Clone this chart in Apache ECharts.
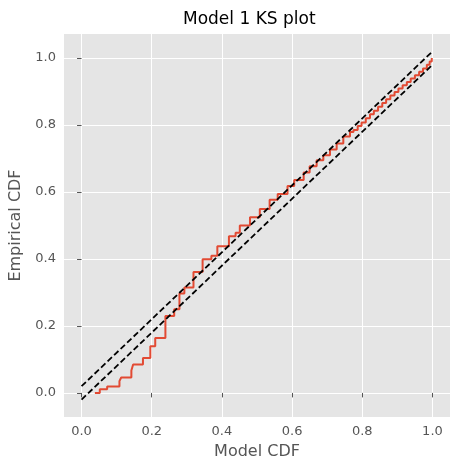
<!DOCTYPE html>
<html>
<head>
<meta charset="utf-8">
<script src="https://cdn.jsdelivr.net/npm/echarts@6/dist/echarts.min.js"></script>
<style>
  html, body { margin: 0; padding: 0; background: #ffffff; }
  #myChart { width: 459px; height: 472px; }
</style>
</head>
<body>
<div id="myChart"></div>
<script>
// empirical CDF steps (x = model CDF, y = empirical CDF)
var modelCdf = [0.038, 0.052, 0.073, 0.108, 0.113, 0.142, 0.147, 0.175, 0.196, 0.21,
  0.239, 0.264, 0.279, 0.293, 0.319, 0.345, 0.37, 0.387, 0.42, 0.439,
  0.451, 0.48, 0.508, 0.536, 0.559, 0.587, 0.606, 0.633, 0.65, 0.67,
  0.689, 0.708, 0.727, 0.746, 0.765, 0.775, 0.787, 0.798, 0.81, 0.822,
  0.833, 0.845, 0.857, 0.868, 0.88, 0.892, 0.903, 0.915, 0.927, 0.938,
  0.95, 0.962, 0.973, 0.984, 0.992, 0.998];
var empiricalCdf = [0.0, 0.011, 0.019, 0.035, 0.046, 0.067, 0.085, 0.104, 0.139, 0.164,
  0.23, 0.25, 0.297, 0.315, 0.361, 0.399, 0.41, 0.438, 0.468, 0.478,
  0.5, 0.525, 0.549, 0.577, 0.594, 0.618, 0.636, 0.658, 0.677, 0.695,
  0.71, 0.727, 0.745, 0.766, 0.779, 0.785, 0.797, 0.808, 0.82, 0.832,
  0.843, 0.855, 0.866, 0.877, 0.888, 0.899, 0.909, 0.919, 0.929, 0.939,
  0.949, 0.959, 0.969, 0.98, 0.99, 1.0];

// KS confidence band
var bandX = [0, 1];
var upperBand = [0.02, 1.02];
var lowerBand = [-0.02, 0.98];

var tickValues = [0, 0.2, 0.4, 0.6, 0.8, 1.0];

var chartDom = document.getElementById("myChart");
var myChart = echarts.init(chartDom);

var pairs = function (xs, ys) {
  return xs.map(function (x, i) { return [x, ys[i]]; });
};

var axisBase = {
  type: "value",
  axisLine: { show: false },
  axisTick: {
    show: true,
    length: 4.5,
    customValues: tickValues,
    lineStyle: { color: "#555555", width: 1 },
  },
  axisLabel: {
    customValues: tickValues,
    color: "#555555",
    fontSize: 13,
    fontFamily: "DejaVu Sans",
    margin: 8,
    formatter: function (v) { return v.toFixed(1); },
  },
  splitLine: { show: true, lineStyle: { color: "#ffffff", width: 1 } },
  nameLocation: "middle",
  nameTextStyle: { color: "#555555", fontSize: 16, fontFamily: "DejaVu Sans" },
};

var option = {
  animation: false,
  backgroundColor: "#ffffff",
  title: {
    text: "Model 1 KS plot",
    left: 178,
    top: 6,
    textStyle: { color: "#000000", fontSize: 17, fontWeight: "normal", fontFamily: "DejaVu Sans" },
  },
  grid: {
    left: 63,
    right: 9,
    top: 34,
    bottom: 55,
    show: true,
    backgroundColor: "#E5E5E5",
    borderWidth: 0,
  },
  xAxis: Object.assign({}, axisBase, {
    min: -0.05,
    max: 1.05,
    name: "Model CDF",
    nameGap: 27,
  }),
  yAxis: Object.assign({}, axisBase, {
    min: -0.072,
    max: 1.072,
    name: "Empirical CDF",
    nameGap: 40,
  }),
  series: [
    {
      type: "line",
      step: "end",
      showSymbol: false,
      data: pairs(modelCdf, empiricalCdf),
      lineStyle: { color: "#E24A33", width: 2 },
    },
    {
      type: "line",
      showSymbol: false,
      data: pairs(bandX, upperBand),
      lineStyle: { color: "#000000", width: 1.8, type: [6, 3] },
    },
    {
      type: "line",
      showSymbol: false,
      data: pairs(bandX, lowerBand),
      lineStyle: { color: "#000000", width: 1.8, type: [6, 3] },
    },
  ],
};

option && myChart.setOption(option);
</script>
</body>
</html>
